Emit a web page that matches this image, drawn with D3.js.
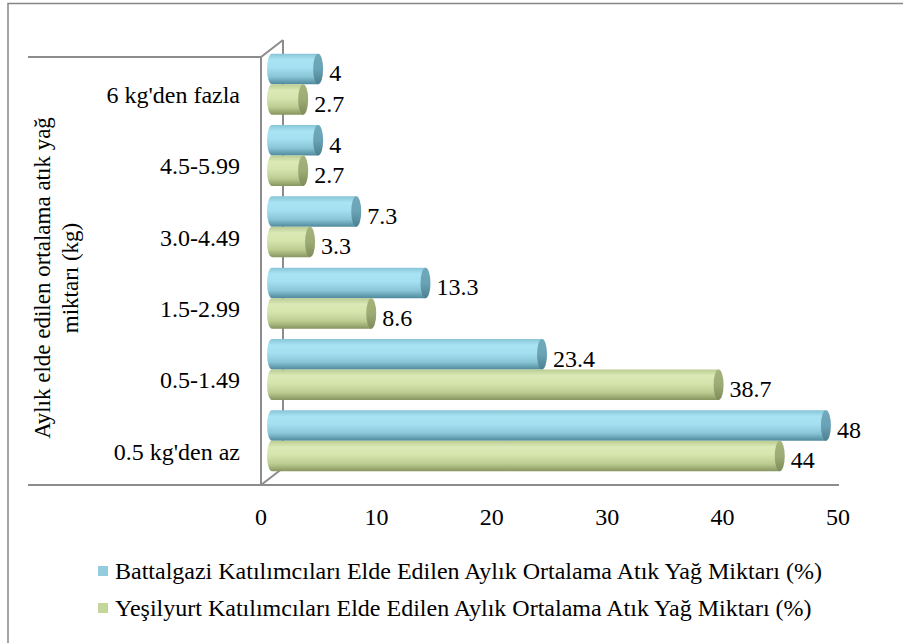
<!DOCTYPE html>
<html>
<head>
<meta charset="utf-8">
<script src="https://cdn.jsdelivr.net/npm/d3@7"></script>
<style>
  body { margin: 0; background: #fff; }
</style>
</head>
<body>
<div class="chart-box"></div>
<script>
// data
var categories = ["6 kg'den fazla", "4.5-5.99", "3.0-4.49", "1.5-2.99", "0.5-1.49", "0.5 kg'den az"];
var battalgazi = [4, 4, 7.3, 13.3, 23.4, 48];
var yesilyurt = [2.7, 2.7, 3.3, 8.6, 38.7, 44];
var seriesNames = [
    "Battalgazi Katılımcıları Elde Edilen Aylık Ortalama Atık Yağ Miktarı (%)",
    "Yeşilyurt Katılımcıları Elde Edilen Aylık Ortalama Atık Yağ Miktarı (%)"
];
var xTicks = [0, 10, 20, 30, 40, 50];
var yTitle = ["Aylık elde edilen ortalama atık yağ", "miktarı (kg)"];

var W = 903, H = 643,
    fontSize = 24,
    font = "'Liberation Serif', 'Times New Roman', serif",
    depth = {dx: 22, dy: -17},        // 3d offset of back wall
    mid = {dx: depth.dx / 2, dy: depth.dy / 2};

var svg = d3.select(".chart-box").append("svg")
    .attr("width", W).attr("height", H)
    .attr("font-family", font);

var defs = svg.append("defs");

// cylinder gradients (vertical shading)
function cylGrad(id, stops) {
    var g = defs.append("linearGradient").attr("id", id)
        .attr("x1", 0).attr("y1", 0).attr("x2", 0).attr("y2", 1);
    stops.forEach(function(s) {
        g.append("stop").attr("offset", s[0]).attr("stop-color", s[1]);
    });
}
cylGrad("blueBody", [[0, "#86c6d8"], [0.2, "#a9e3f3"], [0.45, "#a4e0f1"], [0.75, "#8ac6d8"], [1, "#4f8a9c"]]);
cylGrad("blueCap", [[0, "#6fa9bb"], [0.5, "#6aa3b5"], [1, "#4a7f90"]]);
cylGrad("greenBody", [[0, "#b9cc92"], [0.2, "#dbe9b6"], [0.45, "#d6e5ad"], [0.75, "#bccd92"], [1, "#87965f"]]);
cylGrad("greenCap", [[0, "#a6b47c"], [0.5, "#9dab74"], [1, "#7f8c5a"]]);

var colors = [
    {body: "url(#blueBody)", cap: "url(#blueCap)", swatch: "#93cddd"},
    {body: "url(#greenBody)", cap: "url(#greenCap)", swatch: "#c3d69b"}
];

// scales
var x = d3.scaleLinear().domain([0, 50]).range([261, 838]);
var y = d3.scaleBand().domain(categories).range([57, 485]);
var sub = d3.scaleBand().domain([0, 1]).range([0, y.bandwidth()]).paddingOuter(0.17);

function txt(sel, size) {
    return sel.style("font-family", font).style("font-size", (size || fontSize) + "px").attr("fill", "#000");
}

// outer frame
svg.append("path")
    .attr("d", "M8," + (H + 5) + "V3.5H" + (W + 5))
    .attr("fill", "none").attr("stroke", "#868686").attr("stroke-width", 1.5);

// walls / axes lines
var axisColor = "#8c8c8c";
var walls = svg.append("g").attr("fill", "none").attr("stroke", axisColor).attr("stroke-width", 2);
var y0 = y.range()[0], y1 = y.range()[1];
walls.append("path")
    .attr("d", "M" + (x(0) + depth.dx) + "," + (y0 + depth.dy) + "V" + (y1 + depth.dy));
walls.append("path")
    .attr("d", "M28," + y0 + "H" + x(0) + "L" + (x(0) + depth.dx) + "," + (y0 + depth.dy));
walls.append("path")
    .attr("d", "M" + x(0) + "," + y0 + "V" + y1);
walls.append("path")
    .attr("d", "M28," + y1 + "H" + (x(50) + 1) + "M" + x(0) + "," + y1 + "L" + (x(0) + depth.dx) + "," + (y1 + depth.dy));

// cylinders
var rx = 5;
var rows = [];
categories.forEach(function(c, i) {
    [battalgazi[i], yesilyurt[i]].forEach(function(v, s) {
        rows.push({cat: c, s: s, v: v});
    });
});

var bars = svg.append("g").selectAll("g.bar")
    .data(rows)
  .enter().append("g").attr("class", "bar");

bars.each(function(d) {
    var g = d3.select(this),
        top = y(d.cat) + sub(d.s) + mid.dy,
        h = sub.bandwidth(),
        ry = h / 2,
        xa = x(0) + mid.dx,
        xb = x(d.v) + mid.dx;
    g.append("path")
        .attr("d", "M" + xb + "," + top + "H" + xa +
            "A" + rx + "," + ry + " 0 0 0 " + xa + "," + (top + h) +
            "H" + xb + "Z")
        .attr("fill", colors[d.s].body);
    g.append("ellipse")
        .attr("cx", xb).attr("cy", top + ry)
        .attr("rx", rx).attr("ry", ry)
        .attr("fill", colors[d.s].cap);
    txt(g.append("text"))
        .attr("x", xb + rx + 6)
        .attr("y", top + ry + 4)
        .attr("dy", "0.35em")
        .text(d.v);
});

// category labels
txt(svg.append("g").selectAll("text")
    .data(categories)
  .enter().append("text"))
    .attr("x", 240)
    .attr("y", function(d) { return y(d) + y.bandwidth() / 2 + 2; })
    .attr("dy", "0.35em")
    .attr("text-anchor", "end")
    .text(function(d) { return d; });

// x tick labels
txt(svg.append("g").selectAll("text")
    .data(xTicks)
  .enter().append("text"))
    .attr("x", function(d) { return x(d); })
    .attr("y", 517)
    .attr("dy", "0.35em")
    .attr("text-anchor", "middle")
    .text(function(d) { return d; });

// y title
var yt = txt(svg.append("text"), 23)
    .attr("transform", "translate(50,278) rotate(-90)")
    .attr("text-anchor", "middle");
yTitle.forEach(function(t, i) {
    yt.append("tspan").attr("x", 0).attr("dy", i ? 28 : 0).text(t);
});

// legend
var legend = svg.append("g").selectAll("g")
    .data(seriesNames)
  .enter().append("g")
    .attr("transform", function(d, i) { return "translate(98," + (571 + i * 37) + ")"; });
legend.append("rect")
    .attr("x", 0).attr("y", -5).attr("width", 10).attr("height", 10)
    .attr("fill", function(d, i) { return colors[i].swatch; });
txt(legend.append("text"))
    .attr("x", 17).attr("dy", "0.35em")
    .text(function(d) { return d; });
</script>
</body>
</html>
